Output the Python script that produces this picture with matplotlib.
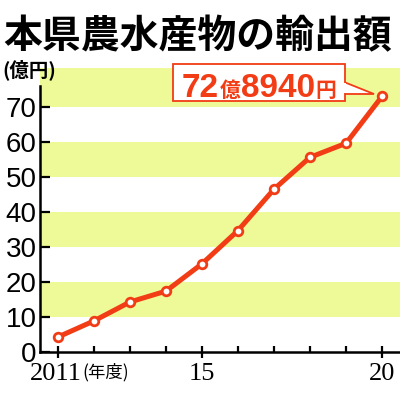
import matplotlib
matplotlib.use("Agg")
import matplotlib.pyplot as plt
from matplotlib.patches import Polygon, Rectangle
from matplotlib.ticker import FixedLocator

# ---- data ----
years = [2011, 2012, 2013, 2014, 2015, 2016, 2017, 2018, 2019, 2020]
values = [4.2, 8.8, 14.2, 17.3, 25.1, 34.6, 46.4, 55.5, 59.5, 72.894]
yticks = [0, 10, 20, 30, 40, 50, 60, 70]
xmajor = [2011, 2015, 2020]
xmajor_labels = ["2011", "15", "20"]
bands = [(10, 20), (30, 40), (50, 60), (70, 81)]
callout = [("72", 24), ("億", 15), ("8940", 24), ("円", 15)]

RED = "#f23c16"
YELLOW = "#eefa98"
JP = ["Noto Sans CJK JP", "DejaVu Sans"]
W = H = 400.0


def fx(x):
    return x / W


def fy(y):
    return 1 - y / H


fig = plt.figure(figsize=(4, 4), dpi=100)
ax = fig.add_axes([fx(40), fy(351.7), 360 / W, (351.7 - 68) / H])

for lo, hi in bands:
    ax.axhspan(lo, hi, color=YELLOW, lw=0, zorder=0)

ax.plot(years, values, "-", color=RED, lw=3.6, zorder=3, solid_capstyle="round")
ax.plot(years, values, "o", ms=6.2, mfc="white", mec=RED, mew=2.0, zorder=4)

ax.set_xlim(2010.5, 2020.5)
ax.set_ylim(0, 81)
for s in ("top", "right"):
    ax.spines[s].set_visible(False)
for s in ("left", "bottom"):
    ax.spines[s].set_linewidth(1.8)
ax.spines["left"].set_bounds(0, 76)

ax.set_yticks(yticks)
ax.set_yticklabels([str(v) for v in yticks], fontsize=20, family="Liberation Sans")
ax.tick_params(axis="y", direction="in", length=7.2, width=1.6, pad=2.5)

ax.xaxis.set_major_locator(FixedLocator(xmajor))
ax.xaxis.set_minor_locator(FixedLocator([y for y in years if y not in xmajor]))
# first label is drawn by hand a little left, so (年度) fits after it
ax.set_xticklabels([""] + xmajor_labels[1:], fontsize=19, family="Liberation Serif")
ax.tick_params(axis="x", which="major", direction="inout", length=8.6, width=1.6, pad=3.6)
ax.tick_params(axis="x", which="minor", direction="in", length=4.3, width=1.6)

# ---- texts ----
fig.text(fx(3), fy(17), "本県農水産物の輸出額", fontsize=28, fontweight="bold",
         family=JP, va="top", ha="left")
fig.text(fx(2), fy(70), "(億円)", fontsize=14, fontweight="bold", family=JP,
         va="center", ha="left")
fig.text(fx(55.5), fy(363.5), xmajor_labels[0], fontsize=19, family="Liberation Serif",
         va="top", ha="center")
fig.text(fx(82), fy(372), "(年度)", fontsize=12.5, family=JP, va="center", ha="left")

# callout box
fig.patches.append(Polygon([(fx(344), fy(82)), (fx(374), fy(94)), (fx(344), fy(94))],
                           closed=True, fc="white", ec=RED, lw=1.3,
                           transform=fig.transFigure, zorder=5))
fig.patches.append(Rectangle((fx(173), fy(101)), (345 - 173) / W, (101 - 64) / H,
                             fc="white", ec=RED, lw=1.3,
                             transform=fig.transFigure, zorder=6))
fig.patches.append(Rectangle((fx(344.2), fy(93.2)), 2 / W, 10.4 / H, fc="white", ec="none",
                             transform=fig.transFigure, zorder=7))
renderer = fig.canvas.get_renderer()
x = 182.0
for s, size in callout:
    fam = "Liberation Sans" if s[0].isdigit() else JP
    t = fig.text(fx(x), fy(97), s, fontsize=size, fontweight="bold", color=RED,
                 family=fam, va="baseline", ha="left", zorder=8)
    x += t.get_window_extent(renderer).width + 0.5

fig.savefig("out.png", dpi=100)
